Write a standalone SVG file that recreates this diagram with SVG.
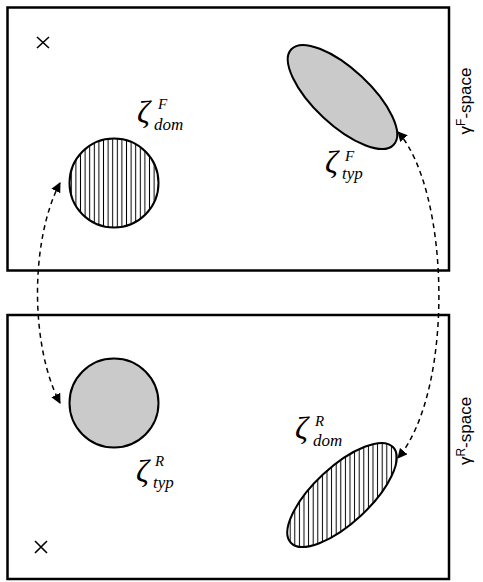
<svg xmlns="http://www.w3.org/2000/svg" width="483" height="582" viewBox="0 0 483 582">
<style>
.box{fill:none;stroke:#000;stroke-width:2.5}
.shape{stroke:#000;stroke-width:2}
.gray{fill:#cacaca}
.hatch{fill:url(#vh)}
.hatchr{fill:url(#vhr)}
.cross{stroke:#000;stroke-width:1.6;fill:none}
.conn{fill:none;stroke:#000;stroke-width:1.5;stroke-dasharray:5 4}
.z{font-family:"Liberation Serif",serif;font-style:italic;fill:#000}
.zeta{font-size:32px}
.sup{font-size:15px}
.sub{font-size:17px}
.lab{font-family:"Liberation Sans",Arial,sans-serif;font-size:17px;fill:#000}
</style>
<defs>
<pattern id="vh" patternUnits="userSpaceOnUse" width="4.6" height="10">
<rect width="4.6" height="10" fill="#fff"/>
<line x1="2.3" y1="0" x2="2.3" y2="10" stroke="#000" stroke-width="1"/>
</pattern>
<pattern id="vhr" patternUnits="userSpaceOnUse" width="4.6" height="10" patternTransform="rotate(43)">
<rect width="4.6" height="10" fill="#fff"/>
<line x1="2.3" y1="0" x2="2.3" y2="10" stroke="#000" stroke-width="1"/>
</pattern>
<marker id="ah" viewBox="0 0 10 10" refX="9" refY="5" markerWidth="10" markerHeight="10" markerUnits="userSpaceOnUse" orient="auto-start-reverse">
<path d="M0,0 L10,5 L0,10 Z" fill="#000"/>
</marker>
</defs>

<g id="top-space">
<rect class="box" x="7.5" y="7.5" width="441.5" height="263"/>
<g transform="translate(471,101) rotate(-90)"><text class="lab" text-anchor="middle">γ<tspan font-size="12" dy="-6">F</tspan><tspan dy="6">-space</tspan></text></g>
</g>
<g id="bottom-space">
<rect class="box" x="7.5" y="315" width="441.5" height="264"/>
<g transform="translate(471,431) rotate(-90)"><text class="lab" text-anchor="middle">γ<tspan font-size="12" dy="-6">R</tspan><tspan dy="6">-space</tspan></text></g>
</g>

<g id="cross-top"><path class="cross" d="M37,37 L49,48 M49,37 L37,48"/></g>
<g id="cross-bottom"><path class="cross" d="M35,541 L47,553 M47,541 L35,553"/></g>

<g id="zeta-dom-F">
<circle class="shape hatch" cx="114" cy="183" r="44.5"/>
<text class="z zeta" x="137" y="123">ζ</text>
<text class="z sup" x="158" y="109">F</text>
<text class="z sub" x="154" y="130">dom</text>
</g>

<g id="zeta-typ-F">
<ellipse class="shape gray" cx="342.5" cy="97" rx="70" ry="28" transform="rotate(43 342.5 97)"/>
<text class="z zeta" x="325" y="173">ζ</text>
<text class="z sup" x="345" y="161">F</text>
<text class="z sub" x="342" y="179">typ</text>
</g>

<g id="zeta-typ-R">
<circle class="shape gray" cx="114" cy="403" r="44.5"/>
<text class="z zeta" x="136" y="482">ζ</text>
<text class="z sup" x="155" y="466">R</text>
<text class="z sub" x="153" y="488">typ</text>
</g>

<g id="zeta-dom-R">
<ellipse class="shape hatchr" cx="342" cy="495" rx="70" ry="28" transform="rotate(-43 342 495)"/>
<text class="z zeta" x="295" y="439">ζ</text>
<text class="z sup" x="315" y="426">R</text>
<text class="z sub" x="313" y="446">dom</text>
</g>

<g id="connectors">
<path class="conn" d="M60,183 C30,240 30,346 60,403" marker-start="url(#ah)" marker-end="url(#ah)"/>
<path class="conn" d="M398,132 C450,190 455,390 398,458" marker-start="url(#ah)" marker-end="url(#ah)"/>
</g>
</svg>
